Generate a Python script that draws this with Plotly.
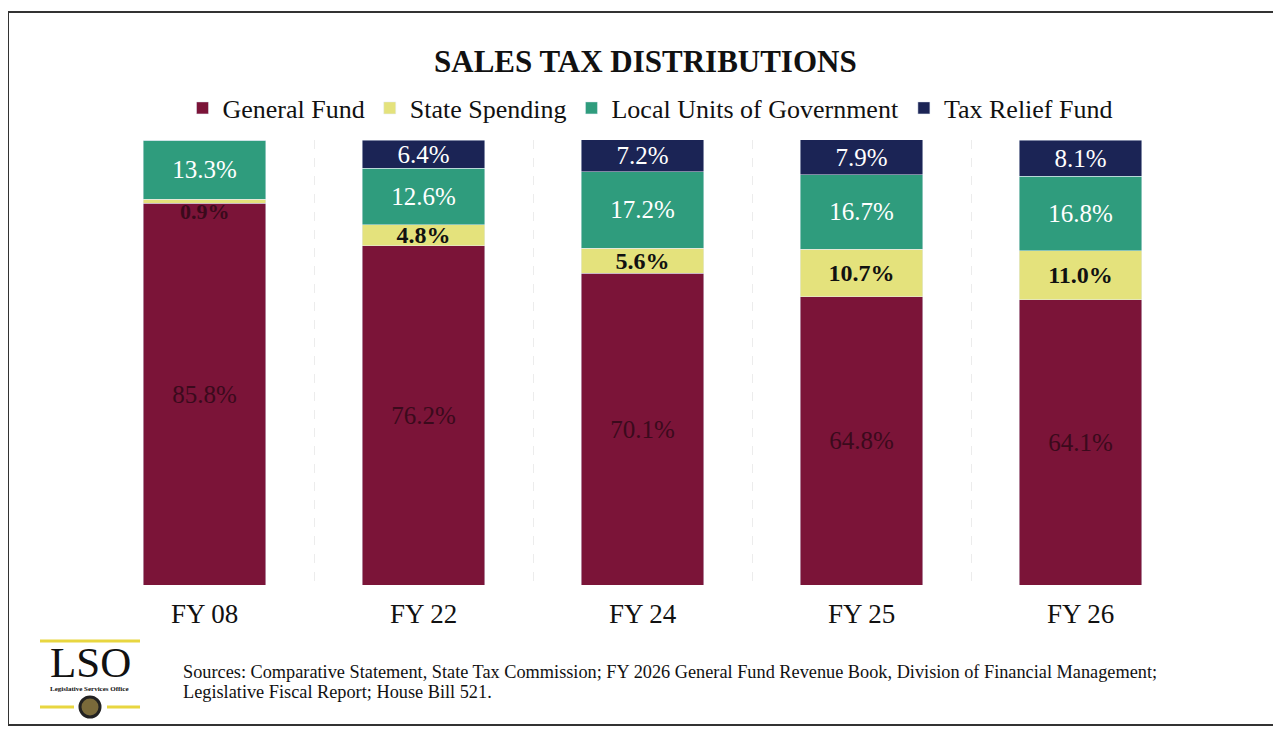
import plotly.graph_objects as go

# data (percent of sales tax distributions)
years = ['FY 08', 'FY 22', 'FY 24', 'FY 25', 'FY 26']
general_fund = [85.8, 76.2, 70.1, 64.8, 64.1]
state_spending = [0.9, 4.8, 5.6, 10.7, 11.0]
local_units = [13.3, 12.6, 17.2, 16.7, 16.8]
tax_relief = [0, 6.4, 7.2, 7.9, 8.1]

source_lines = [
    'Sources: Comparative Statement, State Tax Commission; FY 2026 General Fund Revenue Book, '
    'Division of Financial Management;',
    'Legislative Fiscal Report; House Bill 521.',
]

# the page body has an 8px margin, so the figure is a bit smaller than the window
OFF = 8
W, H = 1273, 725
L, R, T, B = 87, 91, 132, 148
serif = 'Times New Roman, Liberation Serif, serif'


def px(x, y):
    # window pixels -> paper coords
    x, y = x - OFF, y - OFF
    return (x - L) / (W - L - R), (H - B - y) / (H - T - B)


def fmt(v):
    return '%.1f%%' % v


fig = go.Figure()

fig.add_trace(go.Bar(
    name='General Fund', x=years, y=general_fund,
    marker_color='#7b1438',
    text=[fmt(v) for v in general_fund], textposition='inside',
    insidetextanchor='middle', constraintext='none',
    textfont=dict(family=serif, size=25, color='#3a0a1c'),
))

ss_pos = ['none' if v < 2 else 'inside' for v in state_spending]
fig.add_trace(go.Bar(
    name='State Spending', x=years, y=state_spending,
    marker_color='#e4e27c',
    text=['<b>' + fmt(v) + '</b>' for v in state_spending], textposition=ss_pos,
    insidetextanchor='middle', constraintext='none',
    textfont=dict(family=serif, size=24, color='#111111'),
))

fig.add_trace(go.Bar(
    name='Local Units of Government', x=years, y=local_units,
    marker_color='#2f9c7d',
    text=[fmt(v) for v in local_units], textposition='inside',
    insidetextanchor='middle', constraintext='none',
    textfont=dict(family=serif, size=25, color='white'),
))

fig.add_trace(go.Bar(
    name='Tax Relief Fund', x=years, y=tax_relief,
    marker_color='#1b2455',
    text=[fmt(v) if v > 0 else '' for v in tax_relief], textposition='inside',
    insidetextanchor='middle', constraintext='none',
    textfont=dict(family=serif, size=25, color='white'),
))

annots = []
# the thin FY 08 state spending slice gets its label just under the line
for i, v in enumerate(state_spending):
    if v < 2:
        annots.append(dict(x=years[i], y=general_fund[i], yanchor='top', yshift=6,
                           text='<b>' + fmt(v) + '</b>', showarrow=False,
                           font=dict(family=serif, size=22, color='#3a0a1c')))


def note(x, y, text, size, xanchor='center', bold=False):
    ax, ay = px(x, y)
    if bold:
        text = '<b>' + text + '</b>'
    annots.append(dict(x=ax, y=ay, xref='paper', yref='paper', xanchor=xanchor, yanchor='middle',
                       showarrow=False, text=text,
                       font=dict(family=serif, size=size, color='#111111')))


note(645, 62, 'SALES TAX DISTRIBUTIONS', 31, bold=True)
note(181, 672, source_lines[0], 18.3, xanchor='left')
note(181, 692, source_lines[1], 18.3, xanchor='left')
note(90, 662, 'LSO', 43)
note(89, 689, 'Legislative Services Office', 7, bold=True)

shapes = []
# page border
x0, y0 = px(8, 12)
x1, y1 = px(1276, 725)
shapes.append(dict(type='rect', xref='paper', yref='paper', x0=x0, y0=y1, x1=x1, y1=y0,
                   line=dict(color='#333333', width=2)))
# logo decorations
for a, b, yy in [(40, 140, 641), (40, 74, 707), (107, 140, 707)]:
    xa, ya = px(a, yy)
    xb, _ = px(b, yy)
    shapes.append(dict(type='line', xref='paper', yref='paper', x0=xa, x1=xb, y0=ya, y1=ya,
                       line=dict(color='#e8d640', width=3)))
cx0, cy0 = px(80, 697)
cx1, cy1 = px(100, 717)
shapes.append(dict(type='circle', xref='paper', yref='paper', x0=cx0, x1=cx1, y0=cy1, y1=cy0,
                   fillcolor='#7a6a3a', line=dict(color='#222222', width=3)))

fig.update_layout(
    barmode='stack',
    bargap=0.44,
    width=W, height=H,
    margin=dict(l=L, r=R, t=T, b=B),
    paper_bgcolor='white', plot_bgcolor='white',
    font=dict(family=serif, color='#111111'),
    legend=dict(orientation='h', x=px(650, 0)[0], xanchor='center', y=px(0, 108)[1], yanchor='middle',
                font=dict(family=serif, size=26, color='#111111'), itemwidth=30,
                traceorder='normal'),
    xaxis=dict(tickfont=dict(family=serif, size=27, color='#111111'),
               tickson='boundaries', showgrid=True, gridcolor='#ececec', griddash='dash',
               showline=False, ticks='', ticklabelstandoff=10),
    yaxis=dict(range=[0, 100], visible=False),
    annotations=annots,
    shapes=shapes,
)

fig.write_html('out.html')
